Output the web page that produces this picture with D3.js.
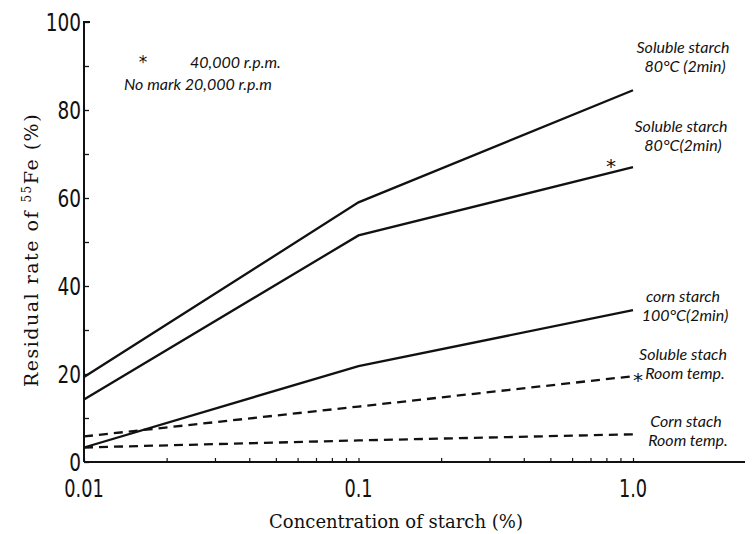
<!DOCTYPE html>
<html><head><meta charset="utf-8">
<script src="https://cdn.jsdelivr.net/npm/d3@7/dist/d3.min.js"></script>
<style>body{margin:0;background:#fff}svg{display:block}</style>
</head><body><svg id="c" width="755" height="534"></svg>
<script>
const concentrations = [0.01, 0.1, 1.0];
const solubleHot40k = [19.3, 59, 84.5];
const solubleHot20k = [14.2, 51.5, 67];
const cornHot = [3.3, 21.8, 34.5];
const solubleRoom = [5.8, 12.6, 19.5];
const cornRoom = [3.3, 4.9, 6.3];
const yTicks = [0, 20, 40, 60, 80, 100];
const xTickLabels = ["0.01", "0.1", "1.0"];

const series = [
  {name:"s1", values: solubleHot40k, dash:null, label:["Soluble starch","80°C (2min)"]},
  {name:"s2", values: solubleHot20k, dash:null, label:["Soluble starch","80°C(2min)"]},
  {name:"s3", values: cornHot, dash:null, label:["corn starch","100°C(2min)"]},
  {name:"s4", values: solubleRoom, dash:"9,6", label:["Soluble stach","Room temp."]},
  {name:"s5", values: cornRoom, dash:"9,6", label:["Corn stach","Room temp."]}
];

const svg = d3.select("#c");
const x = d3.scaleLog().domain([0.01, 1.0]).range([84, 633]);
const y = d3.scaleLinear().domain([0, 100]).range([462, 22]);
const ink = "#111";
const numFont = "'DejaVu Sans',sans-serif";
const hand = "'Lato','Open Sans',sans-serif";

// axes
const gy = svg.append("g").attr("transform","translate(84,0)")
  .call(d3.axisRight(y).tickValues(d3.range(0,101,10)).tickSize(5).tickFormat(""));
gy.select(".domain").attr("stroke",ink).attr("stroke-width",2).attr("d","M0,462V22H6");
gy.selectAll(".tick line").attr("stroke",ink).attr("stroke-width",1.3);
svg.append("g").selectAll("text").data(yTicks).join("text")
  .attr("transform",d=>`translate(81,${y(d)+9}) scale(0.74,1)`).attr("text-anchor","end")
  .attr("font-family",numFont).attr("font-size",25).attr("fill",ink).text(d=>d);

const minor = [];
[0.01,0.1].forEach(b=>{for(let k=2;k<=9;k++) minor.push(b*k);});
const gx = svg.append("g").attr("transform","translate(0,462)")
  .call(d3.axisTop(x).tickValues(minor.concat(concentrations)).tickSize(4).tickFormat(""));
gx.select(".domain").attr("stroke",ink).attr("stroke-width",1.8).attr("d","M84,0H745");
gx.selectAll(".tick line").attr("stroke",ink).attr("stroke-width",1.2);
svg.append("g").selectAll("text").data(concentrations).join("text")
  .attr("transform",d=>`translate(${x(d)},497) scale(0.74,1)`).attr("text-anchor","middle")
  .attr("font-family",numFont).attr("font-size",24).attr("fill",ink)
  .text((d,i)=>xTickLabels[i]);

// lines
const line = d3.line().x((d,i)=>x(concentrations[i])).y(d=>y(d));
svg.append("g").selectAll("path").data(series).join("path")
  .attr("d",d=>line(d.values)).attr("fill","none").attr("stroke",ink)
  .attr("stroke-width",2.3).attr("stroke-dasharray",d=>d.dash);

// labels
const labelPos = {s1:[683,53], s2:[681,132], s3:[683,302], s4:[683,360], s5:[686,427]};
const lg = svg.append("g").attr("font-family",hand).attr("font-style","italic")
  .attr("font-size",16).attr("fill",ink).attr("text-anchor","middle");
series.forEach(s=>{
  const [cx,cy] = labelPos[s.name];
  lg.append("text").attr("x",cx).attr("y",cy).text(s.label[0]);
  lg.append("text").attr("x",cx+2).attr("y",cy+19).text(s.label[1]);
});
// asterisks
const star = (cx,cy,fs)=>svg.append("text").attr("x",cx).attr("y",cy)
  .attr("dominant-baseline","central").attr("font-size",fs).attr("font-family","DejaVu Sans")
  .attr("fill",ink).attr("text-anchor","middle").text("*");
star(611,166,20);
star(638,380,20);
star(143,62,17);

// legend
svg.append("text").attr("x",190).attr("y",68).attr("font-family",hand).attr("font-style","italic").attr("font-size",16).attr("fill",ink).text("40,000 r.p.m.");
svg.append("text").attr("x",124).attr("y",90).attr("font-family",hand).attr("font-style","italic").attr("font-size",16).attr("fill",ink).text("No mark 20,000 r.p.m");

// axis titles
const serif = "'DejaVu Serif','Liberation Serif',serif";
const yt = svg.append("text").attr("transform","translate(38,250) rotate(-90)")
  .attr("text-anchor","middle").attr("font-family",serif).attr("font-size",19)
  .attr("letter-spacing",1.5).attr("fill",ink);
yt.append("tspan").text("Residual  rate  of  ");
yt.append("tspan").attr("font-size",12).attr("dy",-7).text("55");
yt.append("tspan").attr("dy",7).text("Fe  (%)");
svg.append("text").attr("x",396).attr("y",528).attr("text-anchor","middle")
  .attr("font-family",serif).attr("font-size",18).attr("fill",ink).text("Concentration  of  starch  (%)");
</script></body></html>
